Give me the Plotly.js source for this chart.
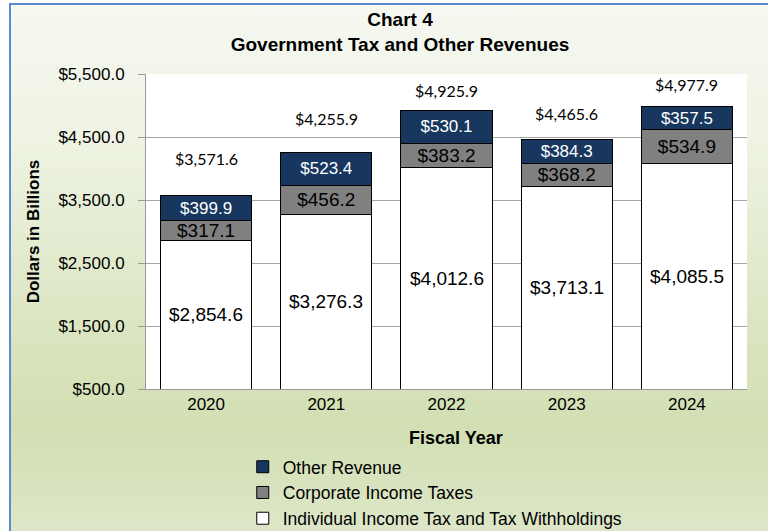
<!DOCTYPE html>
<html>
<head>
<meta charset="utf-8">
<script src="https://cdn.plot.ly/plotly-3.0.1.min.js"></script>
<style>
  html, body { margin: 0; padding: 0; background: #ffffff; }
  #wrap { position: relative; width: 768px; height: 531px; overflow: hidden; background: #ffffff; }
  #bg { position: absolute; left: 9px; top: 3px; width: 800px; height: 560px;
        border-left: 2px solid #5a8ad2; border-top: 2px solid #5a8ad2;
        background: linear-gradient(to bottom, #f6f8f1 0%, #eef3e2 25%, #dce6c4 55%, #d2dfb3 75%, #dae5c3 90%, #e2ead0 100%); }
  #chart { position: absolute; left: 0; top: 0; width: 768px; height: 531px; }
</style>
</head>
<body>
<div id="wrap">
  <div id="bg"></div>
  <div id="chart"></div>
</div>
<script>
// ---- data ----
const years = ['2020', '2021', '2022', '2023', '2024'];
const individual = [2854.6, 3276.3, 4012.6, 3713.1, 4085.5];
const corporate = [317.1, 456.2, 383.2, 368.2, 534.9];
const other = [399.9, 523.4, 530.1, 384.3, 357.5];
const totals = [3571.6, 4255.9, 4925.9, 4465.6, 4977.9];
const yTicks = [500, 1500, 2500, 3500, 4500, 5500];

// ---- presentation ----
const yMin = 500, yMax = 5500;
const totalLabelShift = [37, 34, 20, 26, 22];
const fmt = v => '$' + v.toLocaleString('en-US', {minimumFractionDigits: 1, maximumFractionDigits: 1});
const arial = '"Liberation Sans", Arial, sans-serif';

const barLine = {color: '#000000', width: 1};
const traces = [
  {
    type: 'bar', name: 'Individual Income Tax and Tax Withholdings',
    x: years, y: individual,
    marker: {color: '#ffffff', line: barLine},
    hoverinfo: 'skip'
  },
  {
    type: 'bar', name: 'Corporate Income Taxes',
    x: years, y: corporate,
    marker: {color: '#808080', line: barLine},
    text: corporate.map(fmt), textposition: 'inside', insidetextanchor: 'middle',
    textfont: {family: arial, size: 19, color: '#000000'}, textangle: 0,
    constraintext: 'none',
    hoverinfo: 'skip'
  },
  {
    type: 'bar', name: 'Other Revenue',
    x: years, y: other,
    marker: {color: '#17375e', line: barLine},
    text: other.map(fmt), textposition: 'inside', insidetextanchor: 'middle',
    textfont: {family: arial, size: 17, color: '#ffffff'}, textangle: 0,
    constraintext: 'none',
    hoverinfo: 'skip'
  }
];

const annotations = [];
years.forEach((yr, i) => {
  // label centred in the visible part of the individual-income segment
  annotations.push({
    x: i, y: (Math.max(yMin, 0) + individual[i]) / 2, xref: 'x', yref: 'y',
    text: fmt(individual[i]), showarrow: false,
    font: {family: arial, size: 19, color: '#000000'},
    xanchor: 'center', yanchor: 'middle'
  });
  // total label above the stack
  annotations.push({
    x: i, y: totals[i], xref: 'x', yref: 'y',
    text: fmt(totals[i]), showarrow: false,
    font: {family: 'Lato, "Open Sans", sans-serif', size: 16, color: '#000000'},
    xanchor: 'center', yanchor: 'middle', yshift: totalLabelShift[i]
  });
});
annotations.push({
  text: '<b>Fiscal Year</b>', xref: 'paper', yref: 'paper',
  x: 0.516, y: -0.155, xanchor: 'center', yanchor: 'middle', showarrow: false,
  font: {family: arial, size: 18, color: '#000000'}
});

const layout = {
  width: 768, height: 531,
  paper_bgcolor: 'rgba(0,0,0,0)', plot_bgcolor: '#ffffff',
  margin: {l: 146, r: 21, t: 74, b: 142, pad: 0, autoexpand: false},
  barmode: 'stack', bargap: 0.24,
  showlegend: true,
  title: {
    text: '<b>Chart 4</b><br><b>Government Tax and Other Revenues</b>',
    font: {family: arial, size: 19, color: '#000000'},
    xref: 'container', yref: 'container', x: 400 / 768, xanchor: 'center',
    y: 1 - 26 / 531, yanchor: 'top'
  },
  xaxis: {
    type: 'category', categoryorder: 'array', categoryarray: years,
    range: [-0.5, years.length - 0.5], autorange: false,
    showline: true, linecolor: '#9a9a9a', linewidth: 1,
    ticks: '', showgrid: false,
    tickfont: {family: arial, size: 17, color: '#000000'},
    fixedrange: true
  },
  yaxis: {
    range: [yMin, yMax], autorange: false, tickmode: 'array', tickvals: yTicks,
    ticktext: yTicks.map(fmt),
    showline: true, linecolor: '#9a9a9a', linewidth: 1,
    ticks: 'outside', ticklen: 7, tickcolor: '#9a9a9a',
    ticklabelstandoff: 10,
    showgrid: true, gridcolor: '#a6a6a6', gridwidth: 1,
    zeroline: false,
    tickfont: {family: arial, size: 17, color: '#000000'},
    title: {text: '<b>Dollars in Billions</b>', font: {family: arial, size: 17, color: '#000000'}, standoff: 14},
    fixedrange: true
  },
  legend: {
    orientation: 'v', traceorder: 'reversed',
    xref: 'paper', yref: 'paper',
    x: 0.161, y: -0.19, xanchor: 'left', yanchor: 'top',
    bgcolor: 'rgba(0,0,0,0)', borderwidth: 0,
    font: {family: arial, size: 17.5, color: '#000000'},
    itemwidth: 30, tracegroupgap: 0
  },
  annotations: annotations
};

Plotly.newPlot('chart', traces, layout, {displayModeBar: false, staticPlot: true});
</script>
</body>
</html>
